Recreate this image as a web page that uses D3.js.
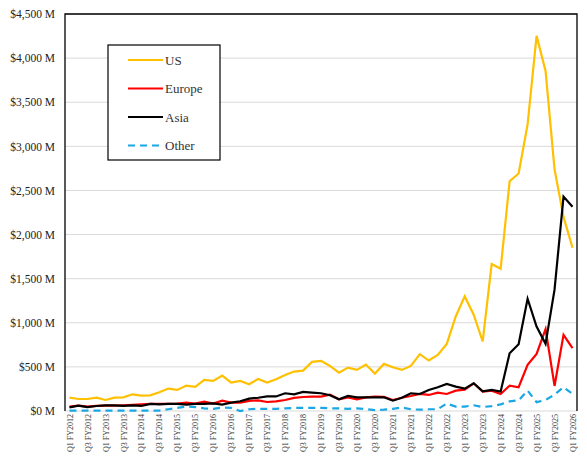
<!DOCTYPE html>
<html>
<head>
<meta charset="utf-8">
<script src="https://cdn.jsdelivr.net/npm/d3@7"></script>
<style>
  body { margin: 0; background: #fff; }
  text { font-family: "Liberation Serif", "DejaVu Serif", serif; fill: #222; }
</style>
</head>
<body>
<div id="chart"></div>
<script>
//-- data (values in $M) --//
var years = [2012, 2013, 2014, 2015, 2016, 2017, 2018, 2019, 2020, 2021, 2022, 2023, 2024, 2025, 2026];
var qNames = ["Q1", "Q2", "Q3", "Q4"];

var us = [151,136,136,151,125,151,155,189,174,178,
  212,254,239,288,273,352,341,401,322,341,
  303,364,322,360,409,447,458,557,568,511,
  435,492,466,526,424,534,496,466,511,
  644,572,636,761,1071,1299,1091,788,1667,1613,2605,2692,3249,4252,3855,2738,2200,1850];

var europe = [49,61,50,58,60,62,65,70,75,80,80,82,85,95,85,106,85,117,95,
  95,115,120,102,110,125,148,159,163,163,186,133,155,133,155,163,160,125,150,170,
  193,182,208,193,231,242,314,220,231,193,288,269,523,648,928,284,863,712];

var asia = [42,61,45,57,64,64,57,64,57,80,76,80,80,72,80,80,87,72,95,
  110,140,150,165,165,201,189,216,208,201,178,133,170,155,155,155,155,117,150,201,
  193,239,269,307,276,254,314,223,239,220,655,757,1272,958,761,1375,2430,2315];

var other = [5,5,5,5,5,5,5,5,5,5,5,
  20,35,50,45,30,25,40,35,
  0,20,25,25,25,30,35,35,35,35,
  30,30,25,30,20,10,15,25,40,20,15,20,20,
  85,50,50,65,45,55,75,110,120,231,100,125,185,270,193];

var yTicks = [0, 500, 1000, 1500, 2000, 2500, 3000, 3500, 4000, 4500];

// quarter categories Q1 FY2012 .. Q1 FY2026
var quarters = [];
years.forEach(function(y) {
  qNames.forEach(function(q) {
    if (y < 2026 || q == "Q1") quarters.push(q + " FY" + y);
  });
});

var series = [
  {name: "US", values: us, color: "#FFC000", dash: null},
  {name: "Europe", values: europe, color: "#FF0000", dash: null},
  {name: "Asia", values: asia, color: "#000000", dash: null},
  {name: "Other", values: other, color: "#1AA7E3", dash: "7,5"}
];

//-- layout --//
var W = 587, H = 457;
var margin = {top: 14, right: 10, bottom: 46, left: 65},
  width = W - margin.left - margin.right,
  height = H - margin.top - margin.bottom;

var svg = d3.select("#chart")
  .append("svg")
    .attr("width", W)
    .attr("height", H)
  .append("g")
    .attr("transform", "translate(" + margin.left + "," + margin.top + ")");

var x = d3.scalePoint()
  .domain(quarters)
  .range([0, width])
  .padding(0.5);

var y = d3.scaleLinear()
  .domain([0, 4500])
  .range([height, 0]);

// gridlines
svg.append("g")
  .selectAll("line")
  .data(yTicks)
  .enter()
  .append("line")
    .attr("x1", 0)
    .attr("x2", width)
    .attr("y1", function(d) { return y(d); })
    .attr("y2", function(d) { return y(d); })
    .style("stroke", "#d9d9d9")
    .style("stroke-width", 1);

// Y axis labels
var yAxis = svg.append("g")
  .call(d3.axisLeft(y).tickValues(yTicks).tickSize(0).tickPadding(10)
    .tickFormat(function(d) { return "$" + d3.format(",")(d) + " M"; }));
yAxis.select(".domain").remove();
yAxis.selectAll("text")
  .style("font-family", "Liberation Serif, serif")
  .style("font-size", "11.5px")
  .style("fill", "#222");

// X axis labels, every other quarter
var xAxis = svg.append("g")
  .attr("transform", "translate(0," + height + ")")
  .call(d3.axisBottom(x)
    .tickValues(quarters.filter(function(d, i) { return i % 2 == 0; }))
    .tickSize(0));
xAxis.select(".domain").remove();
xAxis.selectAll("text")
  .attr("transform", "rotate(-90)")
  .attr("text-anchor", "end")
  .attr("x", -3)
  .attr("y", 0)
  .attr("dy", "0.33em")
  .style("font-family", "Liberation Serif, serif")
  .style("font-size", "8px")
  .style("fill", "#333");

// lines
var line = d3.line()
  .x(function(d, i) { return x(quarters[i]); })
  .y(function(d) { return y(d); });

svg.append("g")
  .selectAll("path")
  .data(series)
  .enter()
  .append("path")
    .attr("d", function(s) { return line(s.values); })
    .style("fill", "none")
    .style("stroke", function(s) { return s.color; })
    .style("stroke-width", 2.2)
    .style("stroke-linejoin", "miter")
    .style("stroke-dasharray", function(s) { return s.dash; });

// plot border: left, top, right
svg.append("path")
  .attr("d", "M0," + height + "V0H" + width + "V" + height)
  .style("fill", "none")
  .style("stroke", "#000")
  .style("stroke-width", 1.3);

// Handmade legend
var lg = svg.append("g").attr("transform", "translate(43,31)");
lg.append("rect")
  .attr("width", 112).attr("height", 115)
  .style("fill", "#fff").style("stroke", "#000").style("stroke-width", 1.2);
series.forEach(function(s, i) {
  var ly = 15 + i * 28.5;
  lg.append("line")
    .attr("x1", 20).attr("x2", 55).attr("y1", ly).attr("y2", ly)
    .style("stroke", s.color).style("stroke-width", 2.2)
    .style("stroke-dasharray", s.dash);
  lg.append("text")
    .attr("x", 57).attr("y", ly).attr("dy", "0.35em")
    .text(s.name)
    .style("font-size", "13px")
    .style("fill", "#333");
});
</script>
</body>
</html>
